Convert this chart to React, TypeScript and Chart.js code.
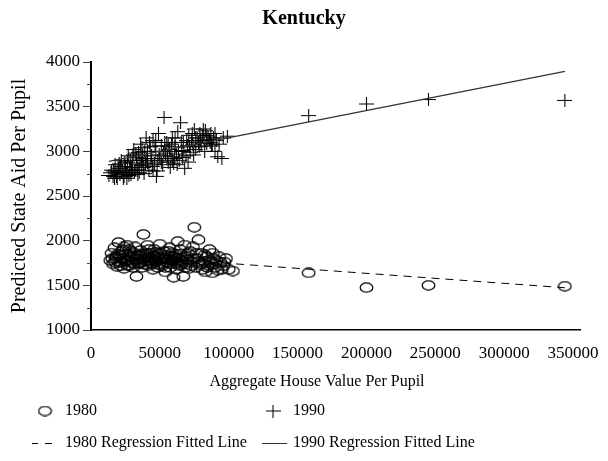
import React, { useEffect, useRef } from "react";
import { Chart, registerables } from "chart.js";
Chart.register(...registerables);

const chartTitle = "Kentucky";
const xAxisTitle = "Aggregate House Value Per Pupil";
const yAxisTitle = "Predicted State Aid Per Pupil";
const xTickValues = [0, 50000, 100000, 150000, 200000, 250000, 300000, 350000];
const yTickValues = [1000, 1500, 2000, 2500, 3000, 3500, 4000];
const yMinorTickValues = [1250, 1750, 2250, 2750, 3250, 3750];

const x1980 = [
  14000, 15000, 16000, 17000, 18000, 19000, 20000, 21000, 22000, 23000, 24000, 25000, 26000, 27000, 28000, 29000,
  30000, 31000, 32000, 33000, 34000, 35000, 36000, 37000, 38000, 39000, 40000, 41000, 42000, 43000, 44000, 45000,
  46000, 47000, 48000, 49000, 50000, 51000, 52000, 53000, 54000, 55000, 56000, 57000, 58000, 59000, 60000, 61000,
  62000, 63000, 64000, 65000, 66000, 67000, 68000, 69000, 70000, 71000, 72000, 73000, 74000, 75000, 76000, 77000,
  78000, 79000, 80000, 81000, 82000, 83000, 84000, 85000, 86000, 87000, 88000, 89000, 90000, 91000, 92000, 94000,
  96000, 98000, 100000, 103000,
  15500, 17500, 19500, 21500, 23500, 25500, 27500, 29500, 31500, 33500, 35500, 37500, 39500, 41500, 43500, 45500,
  47500, 49500, 51500, 53500, 55500, 57500, 59500, 61500, 63500, 65500, 67500, 69500, 46000, 36000, 28500, 58000,
  42000, 24000, 62000, 54000,
  18500, 20500, 22500, 24500, 26500, 28000, 30500, 32500, 34500, 36500, 38500, 40500, 42500, 44500, 46500, 48500,
  50500, 52500, 54500, 56500, 58500, 60500, 62500, 64500, 66500, 68500, 70500, 72500, 74500, 76500, 78500, 80500,
  82500, 84500, 86500, 88500, 90500, 93000, 95000, 97000,
  158000, 200000, 245000, 344000,
];
const y1980 = [
  1780, 1860, 1740, 1920, 1800, 1710, 1980, 1830, 1760, 1900, 1690, 1850, 1950, 1780, 1720, 1880,
  1810, 1740, 1930, 1600, 1830, 1760, 1890, 1700, 2070, 1840, 1780, 1950, 1720, 1860, 1800, 1680,
  1900, 1770, 1840, 1730, 1960, 1810, 1750, 1880, 1700, 1830, 1790, 1920, 1740, 1860, 1590, 1800,
  1760, 1990, 1720, 1850, 1780, 1600, 1950, 1740, 1820, 1690, 1880, 1760, 1930, 2150, 1700, 1800,
  2010, 1730, 1860, 1680, 1770, 1650, 1820, 1720, 1900, 1760, 1640, 1800, 1700, 1780, 1670, 1760,
  1720, 1800, 1680, 1660,
  1800, 1760, 1850, 1720, 1800, 1770, 1840, 1760, 1860, 1790, 1820, 1780, 1730, 1810, 1750, 1830,
  1870, 1790, 1720, 1810, 1760, 1700, 1780, 1850, 1800, 1730, 1820, 1790, 1780, 1750, 1820, 1820,
  1900, 1930, 1680, 1650,
  1820, 1760, 1880, 1780, 1720, 1900, 1700, 1800, 1740, 1840, 1800, 1860, 1780, 1740, 1820, 1700,
  1860, 1800, 1760, 1880, 1780, 1820, 1740, 1900, 1760, 1700, 1860, 1720, 1800, 1860, 1760, 1740,
  1840, 1700, 1780, 1860, 1740, 1820, 1680, 1760,
  1640, 1475, 1500, 1490,
];

const x1990 = [
  13000, 15000, 16000, 17500, 18000, 19000, 20000, 21000, 22000, 23000, 24000, 25000, 26000, 27000, 28000, 29000,
  30000, 31000, 32000, 33000, 34000, 35000, 36000, 37000, 38000, 39000, 40000, 41000, 42000, 43000, 44000, 45000,
  46000, 47000, 48000, 49000, 50000, 51000, 52000, 53000, 54000, 55000, 56000, 57000, 58000, 59000, 60000, 61000,
  62000, 63000, 64000, 65000, 66000, 67000, 68000, 69000, 70000, 71000, 72000, 73000, 74000, 75000, 76000, 77000,
  78000, 79000, 80000, 81000, 82000, 83000, 84000, 85000, 86000, 87000, 88000, 89000, 90000, 91000, 92000, 93000,
  95000, 96000, 99000,
  14500, 17000, 19500, 21500, 23500, 25500, 26500, 27500, 29500, 31500, 33500, 34500, 36500, 38500, 40500, 42500,
  44500, 46500, 48500, 52500, 55500, 58500, 60500, 62500, 66500, 70500, 74500, 78500, 82500, 86500, 47500, 37500,
  30500, 57500,
  16500, 18500, 20500, 22500, 24500, 26000, 28500, 30000, 32500, 34000, 35500, 37000, 39500, 41000, 43500, 45000,
  47000, 49500, 51000, 53500, 56000, 59000, 61000, 63500, 65500, 67500, 69500, 71500, 73500, 76000, 79500, 81500,
  84000, 87500, 90000,
  158000, 200000, 245000, 344000,
];
const y1990 = [
  2730, 2790, 2720, 2850, 2760, 2700, 2810, 2740, 2900, 2780, 2720, 2830, 2760, 2950, 2800, 2740,
  2870, 3020, 2790, 2930, 2850, 2760, 3080, 2900, 2820, 3000, 3150, 2880, 2790, 3050, 2950, 3120,
  2860, 3000, 2780, 3200, 2920, 3060, 2850, 3380, 2980, 3100, 2880, 3020, 2940, 3150, 2860, 3050,
  2970, 3220, 2900, 3320, 3010, 3100, 2810, 2950, 3060, 3180, 2990, 3120, 3080, 3250, 3020, 3150,
  3100, 3200, 3060, 3180, 3120, 3230, 3090, 3160, 3130, 3200, 3060, 3150, 3000, 3120, 2940, 3080,
  2920, 3150, 3170,
  2760, 2700, 2780, 2830, 2700, 2760, 2880, 2730, 2820, 2760, 2790, 2990, 2840, 2750, 2920, 3100,
  2830, 3060, 2900, 3000, 2950, 3080, 2920, 2850, 2930, 2880, 2960, 3050, 3000, 3100, 2720, 2950,
  2960, 2820,
  2780, 2720, 2860, 2760, 2880, 2700, 2900, 2780, 2980, 2740, 2900, 3040, 2860, 3000, 2900, 2780,
  3120, 2960, 2880, 3100, 3060, 2900, 3150, 3000, 3100, 3000, 3120, 3050, 3200, 3150, 3120, 3250,
  3180, 3080, 3200,
  3400, 3530, 3580, 3570,
];

const fit1980X = [14000, 344000];
const fit1980Y = [1842, 1473];
const fit1990X = [13000, 344000];
const fit1990Y = [2888, 3894];

const legendLabels = ["1980", "1990", "1980 Regression Fitted Line", "1990 Regression Fitted Line"];

const FONT = "'Liberation Serif', 'Times New Roman', serif";

function pairs(xs: number[], ys: number[]) {
  return xs.map((x, i) => ({ x, y: ys[i] }));
}

export default function App() {
  const ref = useRef<HTMLCanvasElement>(null);

  useEffect(() => {
    const canvas = ref.current;
    if (!canvas) return;

    const circleImg = document.createElement("canvas");
    circleImg.width = 15;
    circleImg.height = 11;
    const cc = circleImg.getContext("2d")!;
    cc.strokeStyle = "#000";
    cc.lineWidth = 1.25;
    cc.beginPath();
    cc.ellipse(7.5, 5.5, 6.3, 4.5, 0, 0, Math.PI * 2);
    cc.stroke();

    const plusImg = document.createElement("canvas");
    plusImg.width = 15;
    plusImg.height = 13;
    const pc = plusImg.getContext("2d")!;
    pc.strokeStyle = "#000";
    pc.lineWidth = 1.1;
    pc.beginPath();
    pc.moveTo(0, 6.5);
    pc.lineTo(15, 6.5);
    pc.moveTo(7.5, 0);
    pc.lineTo(7.5, 13);
    pc.stroke();

    const extras = {
      id: "extras",
      afterDraw(chart: any) {
        const ctx = chart.ctx;
        const ys = chart.scales.y;
        const area = chart.chartArea;
        ctx.save();
        // minor ticks on y axis
        ctx.strokeStyle = "#444";
        ctx.lineWidth = 1;
        yMinorTickValues.forEach((v) => {
          const py = Math.round(ys.getPixelForValue(v)) + 0.5;
          ctx.beginPath();
          ctx.moveTo(area.left - 4, py);
          ctx.lineTo(area.left, py);
          ctx.stroke();
        });
        // x axis title
        ctx.fillStyle = "#000";
        ctx.font = `16px ${FONT}`;
        ctx.textAlign = "center";
        ctx.textBaseline = "middle";
        ctx.fillText(xAxisTitle, 317, 382);
        // legend
        ctx.textAlign = "left";
        const r1 = 411;
        const r2 = 443;
        ctx.drawImage(circleImg, 45 - 7.5, r1 - 5.5);
        ctx.fillText(legendLabels[0], 65, r1);
        ctx.drawImage(plusImg, 273 - 7.5, r1 - 6.5);
        ctx.fillText(legendLabels[1], 293, r1);
        ctx.strokeStyle = "#000";
        ctx.lineWidth = 1;
        ctx.beginPath();
        ctx.moveTo(32, r2 + 0.5);
        ctx.lineTo(38, r2 + 0.5);
        ctx.moveTo(45, r2 + 0.5);
        ctx.lineTo(52, r2 + 0.5);
        ctx.stroke();
        ctx.fillText(legendLabels[2], 65, r2);
        ctx.strokeStyle = "#333";
        ctx.beginPath();
        ctx.moveTo(262, r2 + 0.5);
        ctx.lineTo(287, r2 + 0.5);
        ctx.stroke();
        ctx.fillText(legendLabels[3], 293, r2);
        ctx.restore();
      },
    };

    const chart = new Chart(canvas, {
      type: "scatter",
      data: {
        datasets: [
          {
            label: "1990 Regression Fitted Line",
            data: pairs(fit1990X, fit1990Y),
            showLine: true,
            borderColor: "#333",
            borderWidth: 1.3,
            pointRadius: 0,
            order: 0,
          },
          {
            label: "1980 Regression Fitted Line",
            data: pairs(fit1980X, fit1980Y),
            showLine: true,
            borderColor: "#000",
            borderWidth: 1,
            borderDash: [8, 6],
            pointRadius: 0,
            order: 1,
          },
          {
            label: "1990",
            data: pairs(x1990, y1990),
            pointStyle: plusImg as any,
            borderColor: "#000",
            order: 2,
          },
          {
            label: "1980",
            data: pairs(x1980, y1980),
            pointStyle: circleImg as any,
            borderColor: "#000",
            order: 3,
          },
        ],
      },
      options: {
        animation: false,
        responsive: false,
        events: [],
        layout: { padding: { left: 0, right: 0, top: 0, bottom: 69 } },
        plugins: {
          legend: { display: false },
          tooltip: { enabled: false },
          title: {
            display: true,
            text: chartTitle,
            color: "#000",
            font: { family: FONT, size: 20, weight: "bold" },
            padding: { top: 7, bottom: 31 },
          },
        },
        scales: {
          x: {
            type: "linear",
            min: 0,
            max: 355000,
            afterBuildTicks: (axis: any) => {
              axis.ticks = xTickValues.map((v) => ({ value: v }));
            },
            afterFit: (axis: any) => {
              axis.height = 62;
              axis.paddingRight = 28;
              axis.paddingLeft = 0;
            },
            border: { display: true, color: "#000", width: 1.5 },
            grid: { display: true, drawOnChartArea: false, drawTicks: false, color: "#000" },
            ticks: {
              color: "#000",
              font: { family: FONT, size: 17 },
              padding: 13,
              maxRotation: 0,
              autoSkip: false,
              callback: (v: any) => String(v),
            },
          },
          y: {
            type: "linear",
            min: 1000,
            max: 4000,
            afterBuildTicks: (axis: any) => {
              axis.ticks = yTickValues.map((v) => ({ value: v }));
            },
            afterFit: (axis: any) => {
              axis.width = 91;
            },
            border: { display: true, color: "#000", width: 2 },
            grid: { display: true, drawOnChartArea: false, drawTicks: true, tickLength: 8, color: "#444" },
            title: {
              display: true,
              text: yAxisTitle,
              color: "#000",
              font: { family: FONT, size: 20 },
              padding: { top: 8, bottom: 0 },
            },
            ticks: {
              color: "#000",
              font: { family: FONT, size: 17 },
              padding: 3,
              autoSkip: false,
              callback: (v: any) => String(v),
            },
          },
        },
      },
      plugins: [extras],
    });

    return () => chart.destroy();
  }, []);

  return (
    <div style={{ position: "absolute", left: 0, top: 0, width: 608, height: 461, background: "#fff" }}>
      <canvas ref={ref} width={608} height={461} style={{ display: "block", width: 608, height: 461 }} />
    </div>
  );
}
